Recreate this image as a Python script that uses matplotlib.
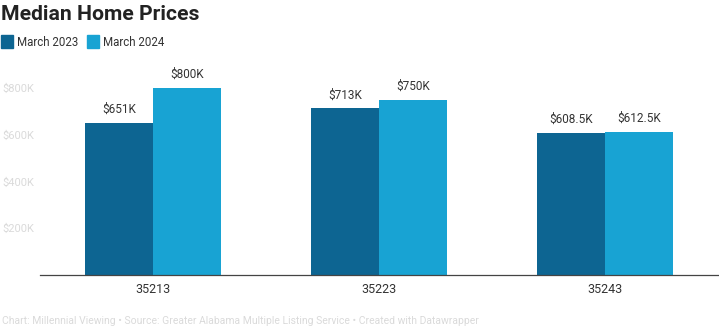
import numpy as np
import matplotlib
matplotlib.use("Agg")
import matplotlib.pyplot as plt
from matplotlib.patches import Rectangle

plt.rcParams['font.family'] = ['Roboto', 'DejaVu Sans']

# data
zips = ['35213', '35223', '35243']
series_names = ['March 2023', 'March 2024']
mar_2023 = [651, 713, 608.5]
mar_2024 = [800, 750, 612.5]
labels_2023 = ['$651K', '$713K', '$608.5K']
labels_2024 = ['$800K', '$750K', '$612.5K']
y_ticks = [200, 400, 600, 800]
y_tick_labels = ['$200K', '$400K', '$600K', '$800K']

dark = '#0d6592'
light = '#18a3d3'
faint = '#dadada'

fig = plt.figure(figsize=(7.19, 3.29), dpi=100)
ax = fig.add_axes([40/719, 54/329, 678/719, 220/329])

x = np.arange(len(zips))
w = 0.3
b1 = ax.bar(x - w/2, mar_2023, w, color=dark)
b2 = ax.bar(x + w/2, mar_2024, w, color=light)

for bars, labs in ((b1, labels_2023), (b2, labels_2024)):
    for bar, lab in zip(bars, labs):
        ax.annotate(lab, (bar.get_x() + bar.get_width()/2, bar.get_height()),
                    xytext=(0, 5), textcoords='offset points',
                    ha='center', va='bottom', fontsize=8.5, color='#333333')

ax.set_xlim(-0.5, 2.5)
ax.set_ylim(0, 800 * 220 / 187)
ax.set_xticks(x)
ax.set_xticklabels(zips, fontsize=9, color='#333333')
ax.set_yticks(y_ticks)
ax.set_yticklabels(y_tick_labels, fontsize=8, color=faint)
ax.tick_params(axis='both', length=0)
ax.tick_params(axis='x', pad=6)
ax.tick_params(axis='y', pad=4)
for s in ('top', 'right', 'left'):
    ax.spines[s].set_visible(False)
ax.spines['bottom'].set_color('#444444')
ax.spines['bottom'].set_linewidth(0.9)

# title and legend
fig.text(1/719, 1 - 15/329, 'Median Home Prices', fontsize=15.2,
         fontweight='bold', color='#222222', va='center', ha='left')
leg_y = 1 - 42/329
for i, (name, col) in enumerate(zip(series_names, [dark, light])):
    x0 = [1, 87][i] / 719
    fig.patches.append(Rectangle((x0, leg_y - 6/329), 12/719, 13/329,
                                 transform=fig.transFigure, color=col))
    fig.text(x0 + 16/719, leg_y, name, fontsize=8.3, color='#333333',
             va='center', ha='left')

fig.text(2/719, 1 - 321/329,
         'Chart: Millennial Viewing \u2022 Source: Greater Alabama Multiple Listing Service \u2022 Created with Datawrapper',
         fontsize=7.5, color=faint, va='center', ha='left')

fig.savefig('out.png', dpi=100)
